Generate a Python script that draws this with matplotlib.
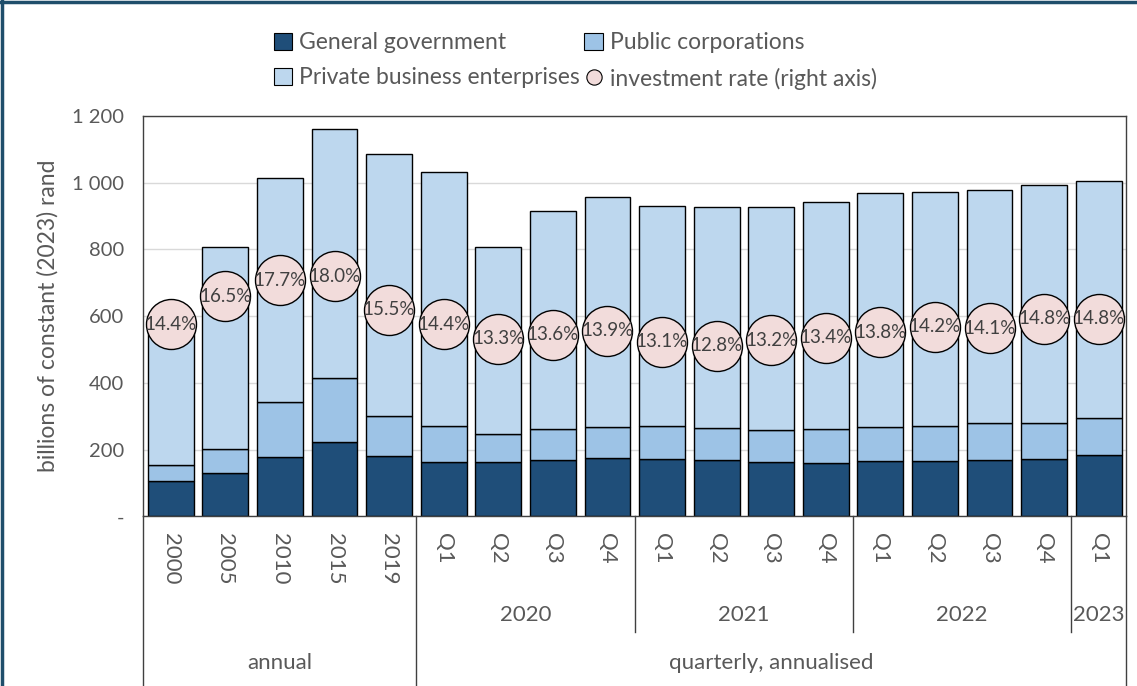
import matplotlib
matplotlib.use("Agg")
import matplotlib.pyplot as plt
from matplotlib.lines import Line2D
from matplotlib.patches import Patch
from matplotlib.ticker import FuncFormatter
import matplotlib.transforms as mtransforms

plt.rcParams['font.family'] = ['Lato', 'DejaVu Sans']

categories = ["2000", "2005", "2010", "2015", "2019",
              "Q1", "Q2", "Q3", "Q4",
              "Q1", "Q2", "Q3", "Q4",
              "Q1", "Q2", "Q3", "Q4",
              "Q1"]
general_government = [107, 129, 179, 224, 180, 162, 164, 169, 175, 173, 168, 162, 160, 165, 165, 170, 172, 184]
public_corporations = [48, 74, 163, 190, 122, 110, 83, 92, 93, 98, 97, 97, 101, 102, 105, 109, 108, 110]
private_business = [400, 603, 672, 746, 784, 761, 559, 654, 690, 660, 663, 669, 682, 703, 703, 698, 712, 711]
investment_rate = [14.4, 16.5, 17.7, 18.0, 15.5, 14.4, 13.3, 13.6, 13.9, 13.1, 12.8, 13.2, 13.4, 13.8, 14.2, 14.1, 14.8, 14.8]

year_groups = ["2020", "2021", "2022", "2023"]
year_group_bounds = [(4.5, 8.5), (8.5, 12.5), (12.5, 16.5), (16.5, 17.5)]
period_groups = ["annual", "quarterly, annualised"]
period_group_bounds = [(-0.5, 4.5), (4.5, 17.5)]

c_gov = "#1F4E79"
c_pc = "#9DC3E6"
c_priv = "#BDD7EE"
c_circ = "#F2DCDB"
txt = "#595959"

fig = plt.figure(figsize=(11.37, 6.86), dpi=100)
ax = fig.add_axes([0.1262, 0.2471, 0.8641, 0.5838])

x = list(range(len(categories)))
w = 0.84
bottom2 = [g + p for g, p in zip(general_government, public_corporations)]
ax.bar(x, general_government, w, color=c_gov, edgecolor="black", linewidth=1.0, zorder=2)
ax.bar(x, public_corporations, w, bottom=general_government, color=c_pc, edgecolor="black", linewidth=1.0, zorder=2)
ax.bar(x, private_business, w, bottom=bottom2, color=c_priv, edgecolor="black", linewidth=1.0, zorder=2)

ax.set_xlim(-0.5, len(categories) - 0.5)
ax.set_ylim(0, 1200)
ax.set_yticks(range(0, 1201, 200))
ax.yaxis.set_major_formatter(FuncFormatter(lambda v, p: "-" if v == 0 else f"{int(v):,}".replace(",", " ")))
ax.tick_params(axis="y", length=0, pad=14, labelsize=14.5, labelcolor=txt)
ax.grid(axis="y", color="#D9D9D9", linewidth=1.0, zorder=0)
ax.set_axisbelow(True)
ax.set_ylabel("billions of constant (2023) rand", fontsize=16.5, color=txt, labelpad=10)
for s in ax.spines.values():
    s.set_color("#404040")
    s.set_linewidth(1.0)

ax.set_xticks(x)
ax.set_xticklabels(categories, rotation=-90, fontsize=16, color=txt, va="top", ha="center")
ax.tick_params(axis="x", length=0, pad=12)

# right axis for investment rate
ax2 = ax.twinx()
ax2.set_ylim(0, 30)
ax2.axis("off")
ax2.plot(x, investment_rate, linestyle="none", marker="o", markersize=36,
         markerfacecolor=c_circ, markeredgecolor="black", markeredgewidth=1.0, zorder=3)
for xi, r in zip(x, investment_rate):
    ax2.text(xi, r, f"{r:.1f}%", ha="center", va="center", fontsize=13.5, color="#404040", zorder=4)

# multi-level category axis
trans = mtransforms.blended_transform_factory(ax.transData, ax.transAxes)
for lab, (a, b) in zip(year_groups, year_group_bounds):
    ax.text((a + b) / 2, -0.245, lab, transform=trans, ha="center", va="center", fontsize=16, color=txt)
for lab, (a, b) in zip(period_groups, period_group_bounds):
    ax.text((a + b) / 2, -0.365, lab, transform=trans, ha="center", va="center", fontsize=16, color=txt)
for (a, b) in year_group_bounds[1:]:
    ax.add_line(Line2D([a, a], [0, -0.288], transform=trans, color="#404040", lw=1.0, clip_on=False))
for (a, b) in period_group_bounds:
    ax.add_line(Line2D([a, a], [0, -0.45], transform=trans, color="#404040", lw=1.0, clip_on=False))
ax.add_line(Line2D([17.5, 17.5], [0, -0.45], transform=trans, color="#404040", lw=1.0, clip_on=False))

# legend
handles = [
    Patch(facecolor=c_gov, edgecolor="black", linewidth=0.8, label="General government"),
    Patch(facecolor=c_priv, edgecolor="black", linewidth=0.8, label="Private business enterprises"),
    Patch(facecolor=c_pc, edgecolor="black", linewidth=0.8, label="Public corporations"),
    Line2D([], [], linestyle="none", marker="o", markersize=11, markerfacecolor=c_circ,
           markeredgecolor="black", markeredgewidth=0.8, label="investment rate (right axis)"),
]
leg = fig.legend(handles=handles, ncol=2, loc="upper center", bbox_to_anchor=(0.506, 0.983),
                 frameon=False, fontsize=16.5, handlelength=0.8, handleheight=0.8,
                 handletextpad=0.3, columnspacing=0.2, labelspacing=0.62)
for t in leg.get_texts():
    t.set_color(txt)

# figure border (top and left)
fig.add_artist(Line2D([0, 1], [0.9965, 0.9965], transform=fig.transFigure, color="#1F4E6B", lw=2.5))
fig.add_artist(Line2D([0.0015, 0.0015], [0, 1], transform=fig.transFigure, color="#1F4E6B", lw=2.5))

fig.savefig("out.png", dpi=100)
